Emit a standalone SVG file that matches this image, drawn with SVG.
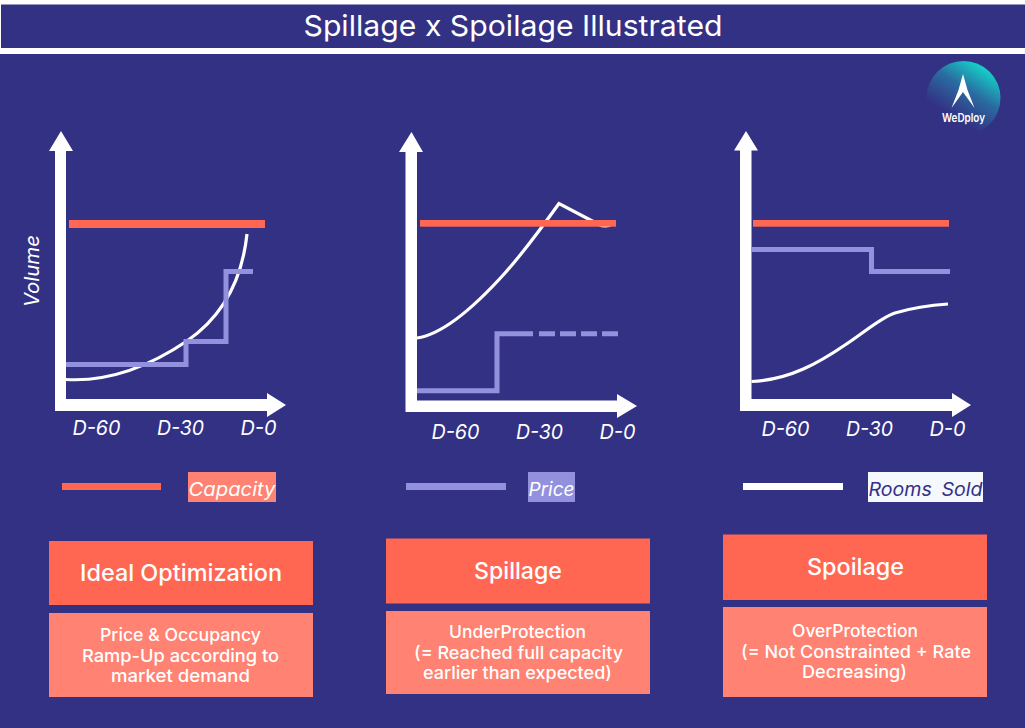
<svg xmlns="http://www.w3.org/2000/svg" width="1025" height="728" viewBox="0 0 1025 728">
<style>
text{font-family:"Inter","Noto Sans","Liberation Sans",sans-serif;fill:#fff}
.tick{font-size:20px;font-style:italic}
.leg{font-size:19px;font-style:italic}
.head{font-size:23px;font-weight:500;text-anchor:middle}
.desc{font-size:17.500px;font-weight:500;text-anchor:middle}
.axis{fill:#fff}
.cap{fill:#FF6752}
.curve{fill:none;stroke:#fff;stroke-width:3.200}
.price{fill:none;stroke:#9391DE;stroke-width:5}
.strong{fill:#FF6752}
.soft{fill:#FF8272}
</style>
<defs>
<linearGradient id="logoGrad" x1="0.85" y1="0.03" x2="0.3" y2="0.9">
<stop offset="0" stop-color="#10E8D2"/>
<stop offset="0.45" stop-color="#2A6BA0"/>
<stop offset="0.85" stop-color="#333184"/>
</linearGradient>
</defs>
<rect id="page" width="1025" height="728" fill="#fff"/>
<g id="header"><rect x="1" y="4.500" width="1024" height="43.500" fill="#333184"/>
<text x="513" y="36" font-size="29" text-anchor="middle" textLength="419" lengthAdjust="spacingAndGlyphs">Spillage x Spoilage Illustrated</text></g>
<rect id="body" x="0" y="54" width="1025" height="674" fill="#333184"/>
<g id="logo"><circle cx="963.500" cy="98" r="37" fill="url(#logoGrad)"/>
<polygon points="963,74 967.500,90 974.500,108 963,92 951.500,108 958.500,90" fill="#fff"/>
<text x="963.500" y="122" font-size="12" font-weight="600" text-anchor="middle" textLength="43" lengthAdjust="spacingAndGlyphs">WeDploy</text></g>

<g id="chart-ideal">
<polygon class="axis" points="61,131 73,151 66,151 66,399 267,399 267,393 286,405 267,417 267,411 55,411 55,151 49,151"/>
<rect class="cap" x="69" y="220" width="196" height="8"/>
<path class="curve" d="M66 379.500C108 382 150 366 187 341C216 321 241 290 247 234"/>
<path class="price" d="M66 364.500H186V341.500H226V271.500H253"/>
<text class="tick" x="72.500" y="435" textLength="48" lengthAdjust="spacingAndGlyphs">D-60</text>
<text class="tick" x="157" y="435" textLength="47" lengthAdjust="spacingAndGlyphs">D-30</text>
<text class="tick" x="240.500" y="435" textLength="36" lengthAdjust="spacingAndGlyphs">D-0</text>
<text class="tick" transform="translate(39 307) rotate(-90)" textLength="72" lengthAdjust="spacingAndGlyphs">Volume</text>
</g>
<g id="legend-capacity">
<rect class="cap" x="62" y="483" width="99" height="7"/>
<rect class="soft" x="188" y="472" width="88" height="30"/>
<text class="leg" x="188.500" y="496" textLength="87" lengthAdjust="spacingAndGlyphs">Capacity</text>
</g>

<g id="chart-spillage">
<polygon class="axis" points="411.500,132 423,152 417,152 417,400.500 617,400.500 617,394 637,406 617,418 617,412 405.500,412 405.500,152 399,152"/>
<path class="curve" d="M417 338C445 334 478 303 505 273C522 254 540 230 559 203.500L598 224Q606 228 612 224"/>
<rect class="cap" x="420" y="220" width="196" height="6.700"/>
<path class="price" d="M417 390.700H497V333.700H533"/>
<path class="price" stroke-dasharray="16 5" d="M539 333.700H618"/>
<text class="tick" x="431.500" y="439" textLength="48" lengthAdjust="spacingAndGlyphs">D-60</text>
<text class="tick" x="516" y="439" textLength="47" lengthAdjust="spacingAndGlyphs">D-30</text>
<text class="tick" x="599.500" y="439" textLength="36" lengthAdjust="spacingAndGlyphs">D-0</text>
</g>
<g id="legend-price">
<rect x="406" y="483" width="100" height="7" fill="#9391DE"/>
<rect x="528" y="472" width="47" height="30" fill="#9391DE"/>
<text class="leg" x="528.500" y="496" textLength="46" lengthAdjust="spacingAndGlyphs">Price</text>
</g>

<g id="chart-spoilage">
<polygon class="axis" points="746,131 758,150.500 751.500,150.500 751.500,399 952,399 952,393 971,405 952,417 952,411 740,411 740,150.500 734,150.500"/>
<rect class="cap" x="753" y="220" width="196" height="6.700"/>
<path class="price" d="M751.500 249.500H871.500V271.500H950M869 271.500H872"/>
<path class="curve" d="M751.500 381.500C790 380 820 362 845 345C865 332 880 318 895 313C915 307 932 305 948 304"/>
<text class="tick" x="761.500" y="436" textLength="48" lengthAdjust="spacingAndGlyphs">D-60</text>
<text class="tick" x="846" y="436" textLength="47" lengthAdjust="spacingAndGlyphs">D-30</text>
<text class="tick" x="929.500" y="436" textLength="36" lengthAdjust="spacingAndGlyphs">D-0</text>
</g>
<g id="legend-rooms">
<rect x="743" y="483" width="100" height="7" fill="#fff"/>
<rect x="868" y="472" width="115" height="30" fill="#F5F8FD"/>
<text class="leg" x="868.500" y="496" textLength="114" lengthAdjust="spacingAndGlyphs" word-spacing="4" style="fill:#333184">Rooms Sold</text>
</g>

<g id="card-ideal">
<rect class="strong" x="49" y="541" width="264" height="64"/>
<text class="head" x="181" y="581" textLength="202" lengthAdjust="spacingAndGlyphs">Ideal Optimization</text>
<rect class="soft" x="49" y="613" width="264" height="84"/>
<text class="desc" x="180.500" y="641" textLength="161" lengthAdjust="spacingAndGlyphs">Price &amp; Occupancy</text>
<text class="desc" x="180.500" y="662" textLength="197" lengthAdjust="spacingAndGlyphs">Ramp-Up according to</text>
<text class="desc" x="180.500" y="682" textLength="139" lengthAdjust="spacingAndGlyphs">market demand</text>
</g>
<g id="card-spillage">
<rect class="strong" x="386" y="538.500" width="264" height="65"/>
<text class="head" x="518" y="579" textLength="88" lengthAdjust="spacingAndGlyphs">Spillage</text>
<rect class="soft" x="386" y="611" width="264" height="83"/>
<text class="desc" x="517.500" y="638" textLength="137" lengthAdjust="spacingAndGlyphs">UnderProtection</text>
<text class="desc" x="518.500" y="659" textLength="209" lengthAdjust="spacingAndGlyphs">(= Reached full capacity</text>
<text class="desc" x="517.500" y="679" textLength="189" lengthAdjust="spacingAndGlyphs">earlier than expected)</text>
</g>
<g id="card-spoilage">
<rect class="strong" x="723" y="534.500" width="264" height="65.500"/>
<text class="head" x="855.500" y="575" textLength="97" lengthAdjust="spacingAndGlyphs">Spoilage</text>
<rect class="soft" x="723" y="607" width="264" height="90"/>
<text class="desc" x="855" y="637" textLength="126" lengthAdjust="spacingAndGlyphs">OverProtection</text>
<text class="desc" x="856" y="658" textLength="230" lengthAdjust="spacingAndGlyphs">(= Not Constrainted + Rate</text>
<text class="desc" x="854.500" y="678" textLength="105" lengthAdjust="spacingAndGlyphs">Decreasing)</text>
</g>
</svg>
